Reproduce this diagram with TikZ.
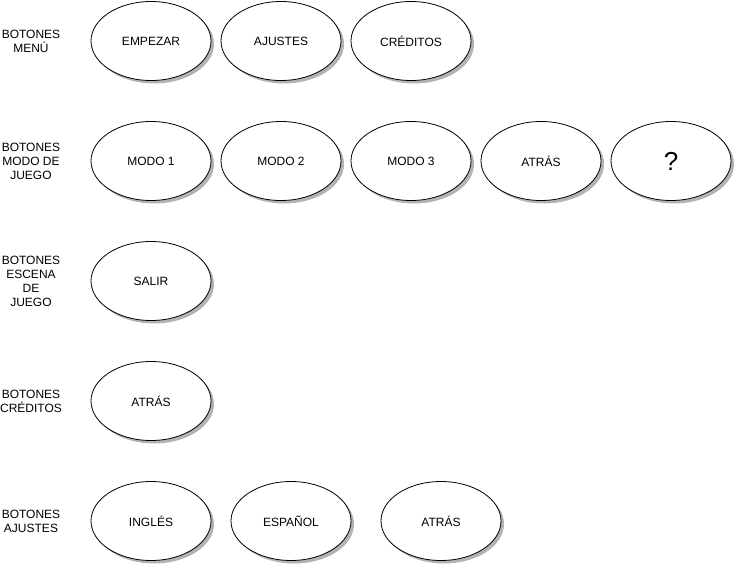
\documentclass[tikz,border=0pt]{standalone}
\usepackage{fontspec}
\setmainfont{Liberation Sans}
\usetikzlibrary{shadows,shapes.geometric}
\begin{document}
\begin{tikzpicture}[x=1pt,y=-1pt,
  btn/.style={ellipse,draw=black,fill=white,line width=0.8pt,minimum width=120pt,minimum height=79pt,inner sep=0pt,
    font=\fontsize{12}{14}\selectfont,
    drop shadow={shadow xshift=3pt,shadow yshift=-3pt,fill=gray,opacity=0.6}},
  lbl/.style={align=center,font=\fontsize{12}{14}\selectfont,inner sep=0pt}]
\useasboundingbox (0,0) rectangle (743,572);
% labels
\node[lbl] (l1) at (31,41) {BOTONES\\MENÚ};
\node[lbl] (l2) at (31,161) {BOTONES\\MODO DE\\JUEGO};
\node[lbl] (l3) at (31,281) {BOTONES\\ESCENA\\DE\\JUEGO};
\node[lbl] (l4) at (31,401) {BOTONES\\CRÉDITOS};
\node[lbl] (l5) at (31,521) {BOTONES\\AJUSTES};
% row 1
\node[btn] (empezar) at (151,41) {EMPEZAR};
\node[btn] (ajustes) at (281,41) {AJUSTES};
\node[btn] (creditos) at (411,41) {CRÉDITOS};
% row 2
\node[btn] (modo1) at (151,161) {MODO 1};
\node[btn] (modo2) at (281,161) {MODO 2};
\node[btn] (modo3) at (411,161) {MODO 3};
\node[btn] (atras1) at (541,161) {ATRÁS};
\node[btn,font=\fontsize{26}{30}\selectfont] (q) at (671,161) {?};
% row 3
\node[btn] (salir) at (151,281) {SALIR};
% row 4
\node[btn] (atras2) at (151,401) {ATRÁS};
% row 5
\node[btn] (ingles) at (151,521) {INGLÉS};
\node[btn] (espanol) at (291,521) {ESPAÑOL};
\node[btn] (atras3) at (441,521) {ATRÁS};
\end{tikzpicture}
\end{document}
